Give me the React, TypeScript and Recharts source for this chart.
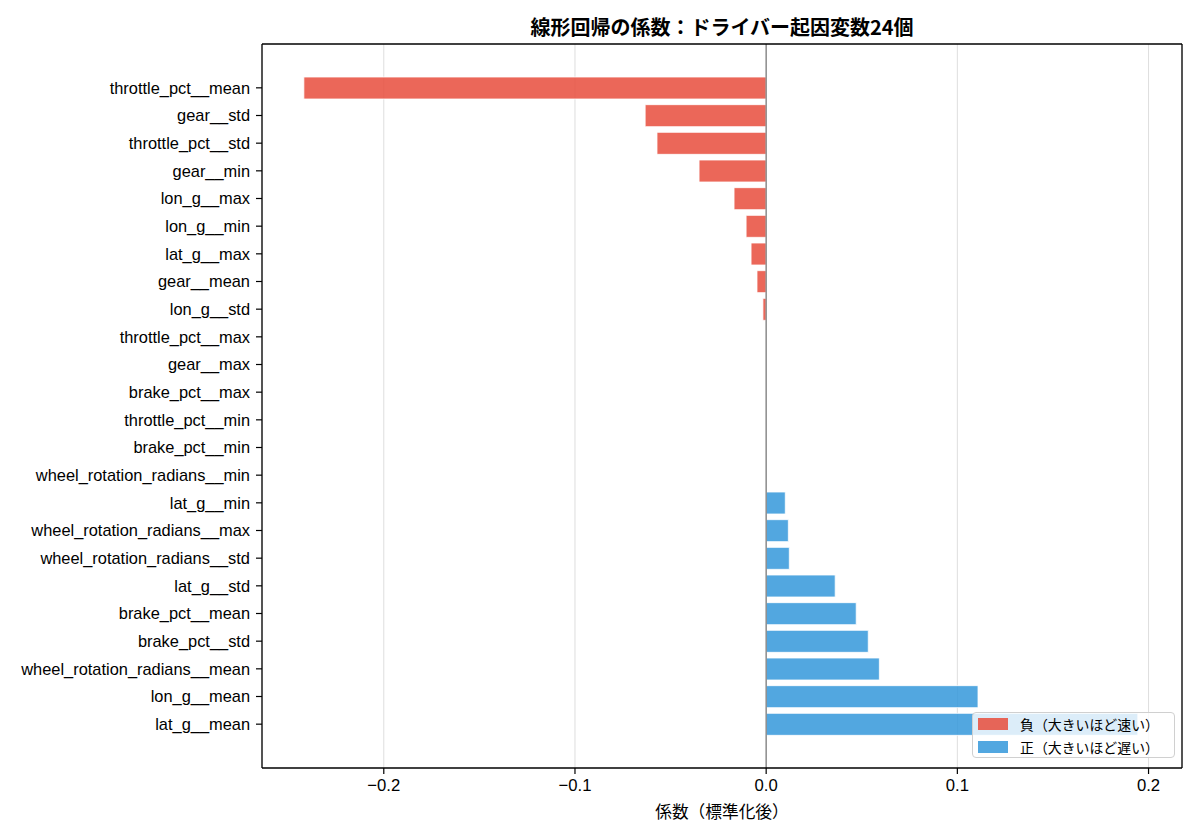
import React from "react";
import {
  BarChart,
  Bar,
  XAxis,
  YAxis,
  CartesianGrid,
  ReferenceLine,
  Legend,
  Cell,
} from "recharts";

const FEATURES = [
  "throttle_pct__mean",
  "gear__std",
  "throttle_pct__std",
  "gear__min",
  "lon_g__max",
  "lon_g__min",
  "lat_g__max",
  "gear__mean",
  "lon_g__std",
  "throttle_pct__max",
  "gear__max",
  "brake_pct__max",
  "throttle_pct__min",
  "brake_pct__min",
  "wheel_rotation_radians__min",
  "lat_g__min",
  "wheel_rotation_radians__max",
  "wheel_rotation_radians__std",
  "lat_g__std",
  "brake_pct__mean",
  "brake_pct__std",
  "wheel_rotation_radians__mean",
  "lon_g__mean",
  "lat_g__mean",
];

const COEFS = [
  -0.2418, -0.0633, -0.0571, -0.0351, -0.0168, -0.0105, -0.0079, -0.0048,
  -0.0017, 0, 0, 0, 0, 0, 0, 0.01, 0.0116, 0.0121, 0.0361, 0.0471, 0.0534,
  0.0592, 0.1108, 0.1944,
];

const X_TICKS = [-0.2, -0.1, 0, 0.1, 0.2];
const X_DOMAIN = [-0.2637, 0.2175];

const TITLE = "線形回帰の係数：ドライバー起因変数24個";
const X_LABEL = "係数（標準化後）";
const LEGEND_ITEMS = [
  { label: "負（大きいほど速い）", color: "#e74c3c" },
  { label: "正（大きいほど遅い）", color: "#3498db" },
];

const NEG = "#e74c3c";
const POS = "#3498db";

const data = FEATURES.map((f, i) => ({ feature: f, coef: COEFS[i] }));

const LATIN = "'Liberation Sans', 'Noto Sans CJK JP', sans-serif";
const JP = "'Noto Sans CJK JP', sans-serif";

const fmt = (v: number) => {
  const s = Math.abs(v).toFixed(1);
  return v < 0 ? "\u2212" + s : s;
};

const LegendBox = () => (
  <div
    style={{
      width: 203,
      height: 46,
      background: "rgba(255,255,255,0.8)",
      border: "1px solid #d0d0d0",
      borderRadius: 4,
      boxSizing: "border-box",
      fontFamily: JP,
      fontSize: 13.9,
      color: "#000",
    }}
  >
    {LEGEND_ITEMS.map((it, i) => (
      <div
        key={i}
        style={{
          position: "absolute",
          left: 6,
          top: 4 + i * 23,
          height: 16,
          display: "flex",
          alignItems: "center",
          whiteSpace: "nowrap",
        }}
      >
        <div
          style={{
            width: 30,
            height: 12,
            background: it.color,
            opacity: 0.85,
            marginRight: 12,
          }}
        />
        <span style={{ lineHeight: "16px" }}>{it.label}</span>
      </div>
    ))}
  </div>
);

export default function App() {
  return (
    <div
      style={{
        position: "absolute",
        left: 0,
        top: 0,
        width: 1200,
        height: 840,
        background: "#fff",
      }}
    >
      <div
        style={{
          position: "absolute",
          left: 262,
          width: 920,
          top: 15,
          textAlign: "center",
          fontFamily: JP,
          fontWeight: 700,
          fontSize: 20,
          lineHeight: "24px",
          color: "#000",
        }}
      >
        {TITLE}
      </div>
      <BarChart
        width={1200}
        height={840}
        data={data}
        layout="vertical"
        margin={{ top: 43, right: 17, bottom: 0, left: 0 }}
        barSize={22}
      >
        <CartesianGrid
          horizontal={false}
          vertical={true}
          stroke="#dedede"
          strokeWidth={1}
        />
        <XAxis
          type="number"
          domain={X_DOMAIN}
          ticks={X_TICKS}
          allowDataOverflow
          tickFormatter={fmt}
          height={72}
          tickSize={6}
          tickMargin={5}
          axisLine={{ stroke: "#000", strokeWidth: 1.3 }}
          tickLine={{ stroke: "#000", strokeWidth: 1.2 }}
          tick={{ fill: "#000", fontSize: 16.7, fontFamily: LATIN }}
          label={{
            value: X_LABEL,
            position: "insideBottom",
            offset: 22,
            fill: "#000",
            fontSize: 16.7,
            fontFamily: JP,
          }}
        />
        <XAxis
          xAxisId="top"
          orientation="top"
          type="number"
          domain={X_DOMAIN}
          allowDataOverflow
          height={1}
          tick={false}
          tickLine={false}
          axisLine={{ stroke: "#000", strokeWidth: 1.3 }}
        />
        <YAxis
          type="category"
          dataKey="feature"
          width={262}
          interval={0}
          padding={{ top: 30, bottom: 30 }}
          tickSize={6}
          tickMargin={6}
          axisLine={{ stroke: "#000", strokeWidth: 1.3 }}
          tickLine={{ stroke: "#000", strokeWidth: 1.2 }}
          tick={{ fill: "#000", fontSize: 16.4, fontFamily: LATIN }}
        />
        <YAxis
          yAxisId="right"
          orientation="right"
          type="category"
          dataKey="feature"
          width={1}
          tick={false}
          tickLine={false}
          axisLine={{ stroke: "#000", strokeWidth: 1.3 }}
        />
        <Bar
          dataKey="coef"
          isAnimationActive={false}
          stroke="#ffffff"
          strokeWidth={0.8}
          fillOpacity={0.85}
        >
          {data.map((d, i) => (
            <Cell key={i} fill={d.coef < 0 ? NEG : POS} />
          ))}
        </Bar>
        <ReferenceLine x={0} stroke="#808080" strokeWidth={1.3} />
        <Legend
          layout="horizontal"
          verticalAlign="middle"
          align="center"
          content={() => <LegendBox />}
          wrapperStyle={{
            position: "absolute",
            left: 972,
            top: 712,
            width: 203,
            height: 46,
          }}
        />
      </BarChart>
    </div>
  );
}
